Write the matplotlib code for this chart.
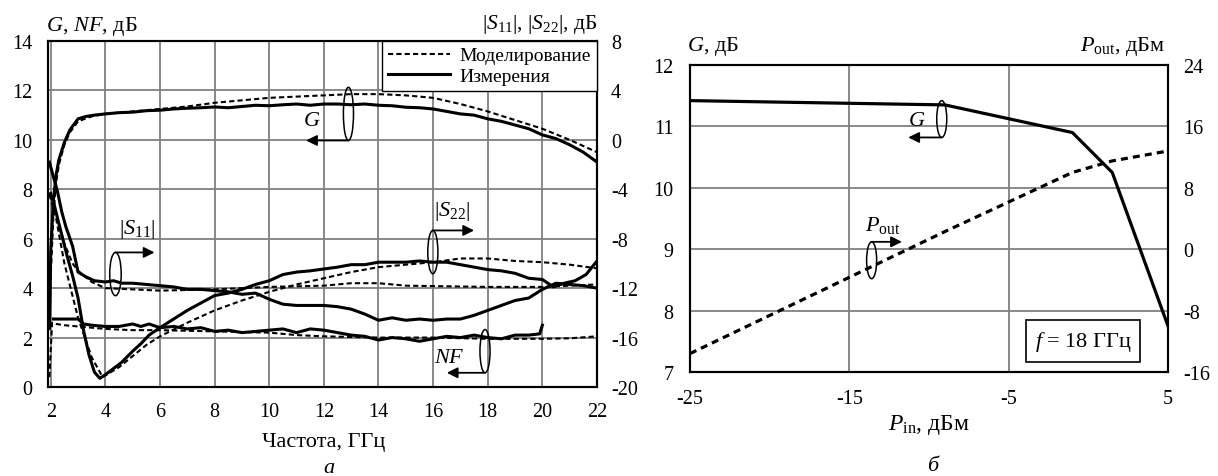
import numpy as np
import matplotlib
matplotlib.use("Agg")
import matplotlib.pyplot as plt
from matplotlib.patches import Ellipse

plt.rcParams['font.family'] = ['Liberation Serif', 'DejaVu Serif']
plt.rcParams['mathtext.fontset'] = 'custom'
plt.rcParams['mathtext.rm'] = 'Liberation Serif'
plt.rcParams['mathtext.it'] = 'Liberation Serif:italic'
plt.rcParams['axes.unicode_minus'] = False
plt.rcParams['font.size'] = 14

# --- панель а: G, NF (левая ось), |S11|, |S22| (правая ось) ---
f_g_meas = [1.95, 2.0, 2.1, 2.2, 2.3, 2.5, 2.7, 3.0, 3.3, 3.6, 4.0, 4.5, 5.0, 5.5, 6.0, 6.5,
            7.0, 7.5, 8.0, 8.5, 9.0, 9.5, 10.0, 10.5, 11.0, 11.5, 12.0, 12.5, 13.0, 13.5, 14.0,
            14.5, 15.0, 15.5, 16.0, 16.5, 17.0, 17.5, 18.0, 18.5, 19.0, 19.5, 20.0, 20.5, 21.0,
            21.5, 22.0]
g_meas = [2.4, 5.5, 7.6, 8.6, 9.2, 9.9, 10.4, 10.85, 10.95, 11.0, 11.05, 11.1, 11.12, 11.18,
          11.2, 11.25, 11.28, 11.3, 11.33, 11.3, 11.35, 11.4, 11.38, 11.42, 11.45, 11.4, 11.45,
          11.45, 11.42, 11.45, 11.4, 11.38, 11.32, 11.3, 11.25, 11.15, 11.05, 11.0, 10.85,
          10.75, 10.6, 10.45, 10.2, 10.05, 9.8, 9.5, 9.1]
f_g_sim = [1.95, 2.0, 2.1, 2.2, 2.3, 2.5, 2.7, 3.0, 3.5, 4, 5, 6, 7, 8, 9, 10, 11, 12, 13, 14,
           15, 16, 17, 18, 19, 20, 21, 22]
g_sim = [2.3, 4.5, 7.0, 8.3, 9.0, 9.8, 10.3, 10.75, 10.95, 11.05, 11.15, 11.25, 11.35, 11.5,
         11.6, 11.7, 11.75, 11.8, 11.85, 11.85, 11.8, 11.7, 11.45, 11.15, 10.8, 10.45, 10.0, 9.5]

f_nf_meas = [2.1, 2.5, 3.0, 3.2, 3.5, 4.0, 4.5, 5.0, 5.3, 5.6, 6.0, 6.5, 7.0, 7.5, 8.0, 8.5,
             9.0, 9.5, 10.0, 10.5, 11.0, 11.5, 12.0, 12.5, 13.0, 13.5, 14.0, 14.5, 15.0, 15.5,
             16.0, 16.5, 17.0, 17.5, 18.0, 18.5, 19.0, 19.5, 19.9, 20.0]
nf_meas = [2.75, 2.75, 2.75, 2.55, 2.5, 2.45, 2.45, 2.55, 2.45, 2.55, 2.4, 2.45, 2.35, 2.4,
           2.25, 2.3, 2.2, 2.25, 2.3, 2.35, 2.2, 2.35, 2.3, 2.2, 2.1, 2.05, 1.9, 2.0, 1.95,
           1.85, 1.95, 2.05, 2.0, 2.1, 2.0, 1.95, 2.1, 2.1, 2.15, 2.5]
f_nf_sim = [1.95, 2.05, 2.2, 2.5, 3.0, 4.0, 5.0, 6.0, 8.0, 10.0, 11.0, 12.0, 14.0, 16.0, 18.0,
            20.0, 21.0, 22.0]
nf_sim = [0.4, 2.6, 2.55, 2.5, 2.45, 2.35, 2.3, 2.3, 2.25, 2.2, 2.1, 2.05, 2.0, 2.0, 1.95,
          1.95, 1.97, 2.05]

f_s11_meas = [1.95, 2.1, 2.25, 2.4, 2.55, 2.8, 3.0, 3.3, 3.6, 4.0, 4.3, 4.6, 5.0, 5.5, 6.0,
              6.5, 7.0, 7.5, 8.0, 8.5, 9.0, 9.5, 10.0, 10.5, 11.0, 11.5, 12.0, 12.5, 13.0,
              13.5, 14.0, 14.5, 15.0, 15.5, 16.0, 16.5, 17.0, 17.5, 18.0, 18.5, 19.0, 19.5,
              20.0, 20.5, 21.0, 21.5, 22.0]
s11_meas = [-1.8, -3.0, -4.2, -5.8, -7.0, -8.6, -10.7, -11.1, -11.4, -11.5, -11.4, -11.6,
            -11.6, -11.7, -11.8, -11.9, -12.1, -12.1, -12.2, -12.3, -12.5, -12.4, -12.9, -13.3,
            -13.4, -13.4, -13.4, -13.5, -13.7, -14.1, -14.6, -14.4, -14.6, -14.5, -14.6, -14.5,
            -14.5, -14.2, -13.8, -13.4, -13.0, -12.8, -12.1, -11.6, -11.7, -11.8, -12.0]
f_s11_sim = [2.0, 2.2, 2.5, 2.8, 3.0, 3.5, 4.0, 5.0, 6.0, 8.0, 10.0, 12.0, 13.0, 14.0, 15.0,
             18.0, 20.0, 22.0]
s11_sim = [-4.2, -6.0, -8.4, -10.0, -10.6, -11.5, -12.0, -12.1, -12.2, -12.1, -11.9, -11.8,
           -11.6, -11.6, -11.8, -11.9, -11.9, -11.7]

f_s22_meas = [1.95, 2.1, 2.3, 2.6, 2.8, 3.0, 3.2, 3.4, 3.6, 3.8, 4.0, 4.3, 4.6, 5.0, 5.3, 5.6,
              6.0, 6.5, 7.0, 7.5, 8.0, 8.5, 9.0, 9.5, 10.0, 10.5, 11.0, 11.5, 12.0, 12.5, 13.0,
              13.5, 14.0, 14.5, 15.0, 15.5, 16.0, 16.5, 17.0, 17.5, 18.0, 18.5, 19.0, 19.5,
              20.0, 20.4, 20.8, 21.2, 21.6, 22.0]
s22_meas = [-4.4, -5.0, -6.8, -9.4, -11.0, -12.8, -15.4, -17.4, -18.8, -19.3, -19.0, -18.5,
            -18.0, -17.1, -16.5, -15.8, -15.2, -14.5, -13.8, -13.2, -12.6, -12.4, -12.1, -11.7,
            -11.4, -10.9, -10.7, -10.6, -10.45, -10.3, -10.1, -10.1, -9.9, -9.9, -9.9, -9.8,
            -9.9, -9.9, -10.1, -10.3, -10.5, -10.6, -10.8, -11.2, -11.3, -11.9, -11.6, -11.4,
            -10.9, -9.8]
f_s22_sim = [1.95, 2.2, 2.5, 3.0, 3.5, 3.9, 4.5, 5.0, 5.5, 6.0, 7.0, 8.0, 9.0, 10.0, 11.0,
             12.0, 13.0, 14.0, 15.0, 16.0, 17.0, 18.0, 19.0, 20.0, 21.0, 22.0]
s22_sim = [-4.4, -6.4, -10.0, -14.4, -17.6, -19.2, -18.4, -17.5, -16.6, -15.9, -14.8, -13.8,
           -13.0, -12.3, -11.7, -11.2, -10.7, -10.3, -10.1, -9.9, -9.6, -9.6, -9.8, -9.9,
           -10.1, -10.4]

# --- панель б: f = 18 ГГц ---
p_in = [-25, -9, -1, 1.5, 5]
g_pin = [11.42, 11.35, 10.9, 10.25, 7.75]
p_out = [-13.6, 2.3, 10.0, 11.5, 12.8]

W, H = 1218, 477
fig = plt.figure(figsize=(W / 100, H / 100), dpi=100)

ax = fig.add_axes([48 / W, 1 - 388 / H, (597 - 48) / W, (388 - 42) / H])
ax2 = ax.twinx()
axb = fig.add_axes([690 / W, 1 - 373 / H, (1168 - 690) / W, (373 - 66) / H])
axb2 = axb.twinx()

grid_kw = dict(color='#808080', lw=1.3)
sim_kw = dict(color='k', lw=1.5, ls=(0, (2.5, 1.5)))
meas_kw = dict(color='k', lw=2.2)

ax.plot(f_g_sim, g_sim, **sim_kw)
ax.plot(f_nf_sim, nf_sim, **sim_kw)
ax.plot(f_g_meas, g_meas, **meas_kw)
ax.plot(f_nf_meas, nf_meas, **meas_kw)
ax2.plot(f_s11_sim, s11_sim, **sim_kw)
ax2.plot(f_s22_sim, s22_sim, **sim_kw)
ax2.plot(f_s11_meas, s11_meas, **meas_kw)
ax2.plot(f_s22_meas, s22_meas, **meas_kw)

ax.set_xlim(1.9, 22)
ax.set_ylim(0, 14)
ax2.set_ylim(-20, 8)
ax.set_xticks(range(2, 23, 2))
ax.set_yticks(range(0, 15, 2))
ax2.set_yticks(range(-20, 9, 4))
ax.grid(True, **grid_kw)
ax.tick_params(length=0, pad=11, labelsize=14.5)
ax2.tick_params(length=0, pad=10, labelsize=14.5)
for a in (ax, ax2):
    for s in a.spines.values():
        s.set_linewidth(1.5)

# легенда
h1, = ax.plot([], [], **sim_kw)
h2, = ax.plot([], [], **meas_kw)
leg = ax2.legend([h1, h2], ['Моделирование', 'Измерения'], loc='upper right',
                 borderaxespad=0, fancybox=False, framealpha=1, edgecolor='k',
                 handlelength=3.2, fontsize=14, borderpad=0.3, labelspacing=0.15,
                 handletextpad=0.5)
leg.get_frame().set_linewidth(1.0)


def marker(a, xc, yc, w, h, x_end, top, label, lx, ly):
    a.add_patch(Ellipse((xc, yc), w, h, fill=False, ec='k', lw=1.1, zorder=5))
    ya = yc + h / 2 if top else yc - h / 2
    a.annotate('', xy=(x_end, ya), xytext=(xc, ya),
               arrowprops=dict(arrowstyle='-|>', color='k', lw=1.3, mutation_scale=16,
                               shrinkA=0, shrinkB=0), zorder=5)
    a.text(lx, ly, label, ha='center', va='center', fontsize=16)


marker(ax, 12.9, 11.05, 0.37, 2.15, 11.35, False, '$G$', 11.55, 10.8)
marker(ax, 15.99, 5.46, 0.37, 1.75, 17.5, True, r'$|S_{\mathrm{22}}|$', 16.7, 7.15)
marker(ax, 4.37, 4.57, 0.42, 1.75, 5.8, True, r'$|S_{\mathrm{11}}|$', 5.15, 6.4)
marker(ax, 17.9, 1.45, 0.37, 1.75, 16.5, False, '$NF$', 16.6, 1.2)

# панель б
axb.plot(p_in, g_pin, color='k', lw=2.3)
axb2.plot(p_in, p_out, color='k', lw=2.3, ls=(0, (2.2, 1.6)))
axb.set_xlim(-25, 5)
axb.set_ylim(7, 12)
axb2.set_ylim(-16, 24)
axb.set_xticks([-25, -15, -5, 5])
axb.set_yticks(range(7, 13))
axb2.set_yticks(range(-16, 25, 8))
axb.grid(True, **grid_kw)
axb.tick_params(length=0, pad=12, labelsize=14.5)
axb2.tick_params(length=0, pad=11, labelsize=14.5)
for a in (axb, axb2):
    for s in a.spines.values():
        s.set_linewidth(1.5)

marker(axb, -9.2, 11.12, 0.63, 0.6, -11.3, False, '$G$', -10.75, 11.1)
marker(axb, -13.6, 8.82, 0.63, 0.6, -11.7, True, r'$P_{\mathrm{out}}$', -12.9, 9.4)
axb.text(-0.33, 7.5, '$f$ = 18 ГГц', ha='center', va='center', fontsize=16,
         bbox=dict(boxstyle='square,pad=0.4', fc='white', ec='k', lw=1.2))

# подписи осей
fig.text(46 / W, 1 - 26 / H, '$G$, $NF$, дБ', ha='left', va='center', fontsize=16)
fig.text(597 / W, 1 - 24 / H, r'$|S_{\mathrm{11}}|$, $|S_{\mathrm{22}}|$, дБ', ha='right',
         va='center', fontsize=15.5)
fig.text(324 / W, 1 - 443 / H, 'Частота, ГГц', ha='center', va='center', fontsize=16)
fig.text(329 / W, 1 - 469 / H, 'а', ha='center', va='center', fontsize=16, style='italic')
fig.text(687 / W, 1 - 47 / H, '$G$, дБ', ha='left', va='center', fontsize=16)
fig.text(1165 / W, 1 - 47 / H, r'$P_{\mathrm{out}}$, дБм', ha='right', va='center', fontsize=16)
fig.text(929 / W, 1 - 425 / H, r'$P_{\mathrm{in}}$, дБм', ha='center', va='center', fontsize=17)
fig.text(933 / W, 1 - 467 / H, 'б', ha='center', va='center', fontsize=16, style='italic')

fig.savefig('out.png', dpi=100)
